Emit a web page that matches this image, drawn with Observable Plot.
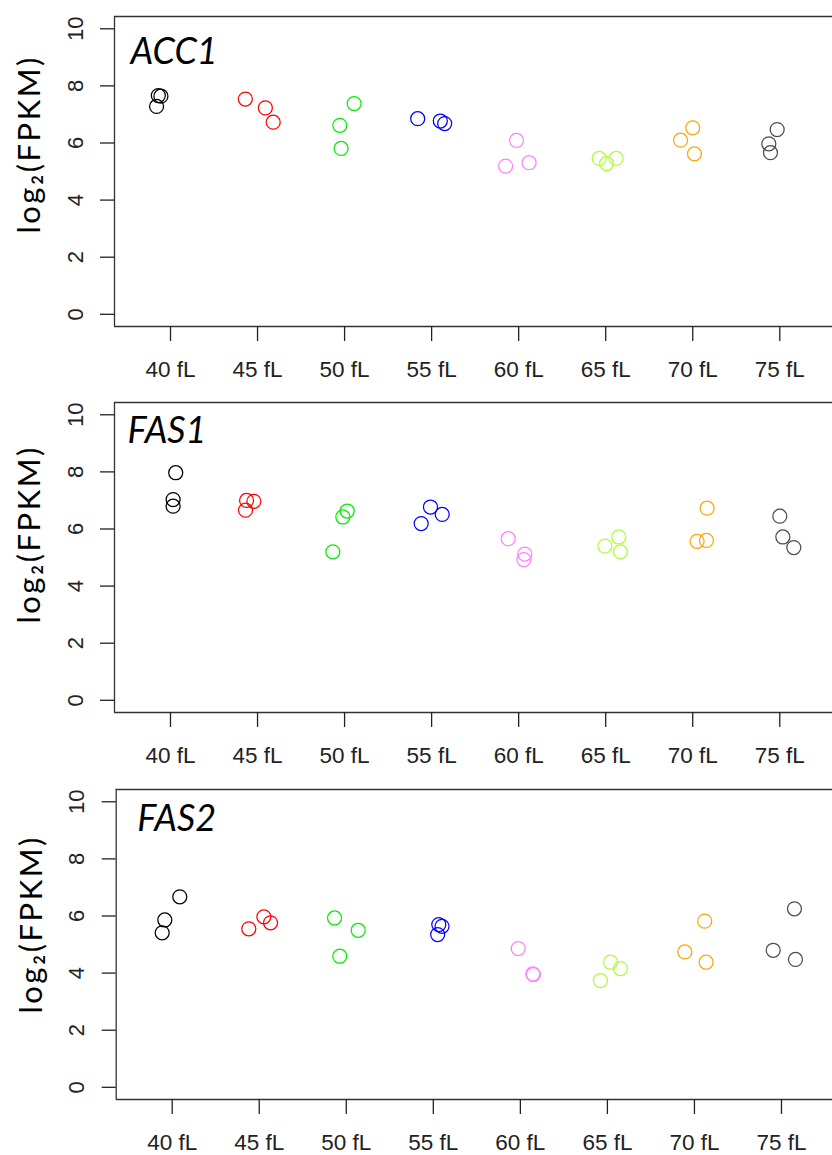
<!DOCTYPE html>
<html><head><meta charset="utf-8">
<script src="https://cdn.jsdelivr.net/npm/d3@7"></script>
<script src="https://cdn.jsdelivr.net/npm/@observablehq/plot@0.6"></script>
<style>
html,body{margin:0;padding:0;background:#fff;overflow:hidden;width:832px;height:1155px}
.panel{position:absolute;left:0;width:832px}
</style></head><body>
<div id="p0" class="panel" style="top:0px"></div>
<div id="p1" class="panel" style="top:386px"></div>
<div id="p2" class="panel" style="top:773px"></div>
<script>
// ---- data ----
const categories = ["40 fL","45 fL","50 fL","55 fL","60 fL","65 fL","70 fL","75 fL"];
const categoryColors = ["#000000","#ff0000","#00ee00","#0000ff","#ff80ff","#adff2f","#ffa500","#4d4d4d"];
const yTicks = [0,2,4,6,8,10];
const genes = ["ACC1","FAS1","FAS2"];
const yLabel = "log\u2082(FPKM)";

const acc1Values = [[7.66,7.64,7.28],[7.54,7.23,6.73],[7.38,6.62,5.81],[6.85,6.77,6.68],[6.09,5.19,5.31],[5.46,5.28,5.46],[6.53,6.10,5.62],[6.47,5.97,5.66]];
const acc1Jitter = [[-0.14,-0.11,-0.16],[-0.14,0.09,0.18],[0.11,-0.055,-0.04],[-0.16,0.10,0.15],[-0.025,-0.15,0.12],[-0.075,0.01,0.12],[0.0,-0.14,0.02],[-0.03,-0.126,-0.107]];
const fas1Values = [[7.97,7.03,6.80],[7.00,6.97,6.66],[6.63,6.42,5.20],[6.77,6.51,6.19],[5.66,5.12,4.93],[5.72,5.40,5.20],[6.73,5.57,5.60],[6.45,5.72,5.35]];
const fas1Jitter = [[0.06,0.03,0.03],[-0.126,-0.042,-0.138],[0.03,-0.02,-0.135],[-0.013,0.122,-0.12],[-0.12,0.07,0.06],[0.15,-0.01,0.17],[0.165,0.05,0.158],[0.0,0.035,0.161]];
const fas2Values = [[6.67,5.86,5.41],[5.97,5.76,5.55],[5.93,5.50,4.59],[5.70,5.64,5.35],[4.86,3.97,3.95],[4.38,4.16,3.74],[5.82,4.74,4.38],[6.25,4.80,4.48]];
const fas2Jitter = [[0.087,-0.085,-0.115],[0.053,0.13,-0.12],[-0.135,0.137,-0.075],[0.063,0.10,0.05],[-0.025,0.143,0.15],[0.036,0.15,-0.08],[0.118,-0.111,0.134],[0.149,-0.095,0.161]];

const geneValues = [acc1Values, fas1Values, fas2Values];
const geneJitter = [acc1Jitter, fas1Jitter, fas2Jitter];

// ---- layout (per panel) ----
const layout = [
  {marginLeft: 114,   geneDx: 16, geneDy: 47, labelDy: 217},
  {marginLeft: 114,   geneDx: 13, geneDy: 40, labelDy: 221},
  {marginLeft: 115.7, geneDx: 21, geneDy: 41, labelDy: 224}
];
const W = 832, H = 384, MT = 16, MB = 58;
const pxPerCat = 87.04, firstOffset = 56;
const yDomain = [-0.427, 10.43];

genes.forEach((gene, g) => {
  const L = layout[g];
  const rows = [];
  geneValues[g].forEach((vals, c) => vals.forEach((v, k) => rows.push({
    cat: categories[c], pos: c + 1 + geneJitter[g][c][k], value: v
  })));
  const x0 = 1 - firstOffset / pxPerCat;
  const x1 = 1 + (W - L.marginLeft - firstOffset) / pxPerCat;
  const chart = Plot.plot({
    width: W, height: H,
    marginLeft: L.marginLeft, marginRight: 0, marginTop: MT, marginBottom: MB,
    style: {background: "#fff", fontFamily: "'Liberation Sans', Arial, sans-serif", overflow: "visible"},
    x: {type: "linear", domain: [x0, x1], axis: null},
    y: {domain: yDomain, axis: null},
    color: {type: "ordinal", domain: categories, range: categoryColors},
    marks: [
      Plot.ruleY([yDomain[0], yDomain[1]], {stroke: "#333", strokeWidth: 1.3}),
      Plot.ruleX([x0], {stroke: "#333", strokeWidth: 1.3}),
      Plot.axisX({ticks: categories.map((_, i) => i + 1), tickFormat: i => categories[i - 1],
        tickSize: 15, tickPadding: 20, fontSize: 22.5, color: "#222", strokeWidth: 1.3, label: null}),
      Plot.axisY({ticks: yTicks, tickSize: 14, tickPadding: 18, tickRotate: -90,
        fontSize: 22, color: "#222", strokeWidth: 1.3, label: null}),
      Plot.dot(rows, {x: "pos", y: "value", stroke: "cat", r: 7, strokeWidth: 1.25, fill: "none"}),
      Plot.text([gene], {frameAnchor: "top-left", text: d => d, dx: L.geneDx, dy: L.geneDy,
        textAnchor: "start", lineAnchor: "bottom", fontSize: 36, fontStyle: "italic",
        fontFamily: "Lato, 'Open Sans', sans-serif", fill: "#000"}),
      Plot.text([yLabel], {frameAnchor: "top-left", text: d => d, dx: -84, dy: L.labelDy,
        rotate: -90, textAnchor: "start", lineAnchor: "middle", fontSize: 31,
        fontFamily: "Lato, 'Open Sans', sans-serif", fill: "#000"})
    ]
  });
  chart.querySelectorAll("text").forEach(t => {
    if (t.textContent === yLabel) t.style.letterSpacing = "2.5px";
  });
  document.getElementById("p" + g).appendChild(chart);
});
</script>
</body></html>
